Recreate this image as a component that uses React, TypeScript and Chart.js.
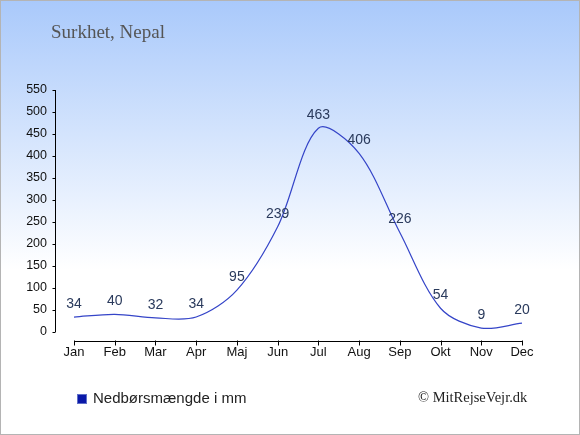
import React, { useEffect, useRef } from "react";
import { Chart, registerables } from "chart.js";

Chart.register(...registerables);

const months = ["Jan", "Feb", "Mar", "Apr", "Maj", "Jun", "Jul", "Aug", "Sep", "Okt", "Nov", "Dec"];
const rainfall = [34, 40, 32, 34, 95, 239, 463, 406, 226, 54, 9, 20];
const yTicks = [0, 50, 100, 150, 200, 250, 300, 350, 400, 450, 500, 550];
const titleText = "Surkhet, Nepal";
const legendText = "Nedbørsmængde i mm";
const creditText = "© MitRejseVejr.dk";

const decorPlugin = {
  id: "decor",
  beforeDraw(chart: any) {
    const { ctx, width, height } = chart;
    ctx.save();
    const g = ctx.createLinearGradient(0, 0, 0, height);
    g.addColorStop(0, "#a9c9fb");
    g.addColorStop(0.62, "#ffffff");
    g.addColorStop(1, "#ffffff");
    ctx.fillStyle = g;
    ctx.fillRect(0, 0, width, height);
    ctx.strokeStyle = "#b4b4b4";
    ctx.lineWidth = 1;
    ctx.strokeRect(0.5, 0.5, width - 1, height - 1);
    ctx.restore();
  },
  afterDraw(chart: any) {
    const { ctx, chartArea } = chart;
    const xs = chart.scales.x;
    const ys = chart.scales.y;
    ctx.save();
    // y axis
    const ax = Math.round(chartArea.left - 19) + 0.5;
    ctx.strokeStyle = "#000";
    ctx.lineWidth = 1;
    ctx.beginPath();
    ctx.moveTo(ax, ys.getPixelForValue(yTicks[yTicks.length - 1]));
    ctx.lineTo(ax, ys.getPixelForValue(0));
    yTicks.forEach((v) => {
      const py = Math.round(ys.getPixelForValue(v)) + 0.5;
      ctx.moveTo(ax - 3, py);
      ctx.lineTo(ax, py);
    });
    // x axis
    const by = Math.round(chartArea.bottom + 9) + 0.5;
    ctx.moveTo(xs.getPixelForValue(0), by);
    ctx.lineTo(xs.getPixelForValue(months.length - 1), by);
    months.forEach((_, i) => {
      const px = Math.round(xs.getPixelForValue(i)) + 0.5;
      ctx.moveTo(px, by - 1);
      ctx.lineTo(px, by + 4);
    });
    ctx.stroke();

    // title
    ctx.fillStyle = "#555555";
    ctx.font = "19px 'Liberation Serif', serif";
    ctx.textAlign = "left";
    ctx.textBaseline = "alphabetic";
    ctx.fillText(titleText, 51, 38);

    // legend
    ctx.fillStyle = "#6070c8";
    ctx.fillRect(77, 394, 10, 10);
    ctx.fillStyle = "#0a18a8";
    ctx.fillRect(78, 395, 8, 8);
    ctx.fillStyle = "#222222";
    ctx.font = "15px 'Liberation Sans', Arial, sans-serif";
    ctx.textBaseline = "middle";
    ctx.fillText(legendText, 93, 399);

    // credit
    ctx.font = "14.5px 'Liberation Serif', serif";
    ctx.textAlign = "left";
    ctx.fillText(creditText, 418, 398);
    ctx.restore();
  },
  afterDatasetsDraw(chart: any) {
    const { ctx } = chart;
    const meta = chart.getDatasetMeta(0);
    ctx.save();
    ctx.fillStyle = "#2a3a5c";
    ctx.font = "14px 'Liberation Sans', Arial, sans-serif";
    ctx.textAlign = "center";
    ctx.textBaseline = "middle";
    meta.data.forEach((pt: any, i: number) => {
      ctx.fillText(String(rainfall[i]), pt.x, pt.y - 13);
    });
    ctx.restore();
  },
};

export default function App() {
  const ref = useRef<HTMLCanvasElement>(null);
  useEffect(() => {
    if (!ref.current) return;
    const chart = new Chart(ref.current, {
      type: "line",
      data: {
        labels: months,
        datasets: [
          {
            label: legendText,
            data: rainfall,
            borderColor: "#3545c8",
            borderWidth: 1.2,
            pointRadius: 0,
            tension: 0.32,
            fill: false,
          },
        ],
      },
      options: {
        responsive: false,
        animation: false,
        devicePixelRatio: 1,
        layout: { padding: { top: 90, right: 58, left: 0, bottom: 0 } },
        plugins: { legend: { display: false }, tooltip: { enabled: false }, title: { display: false } },
        scales: {
          x: {
            type: "category",
            offset: false,
            grid: { display: false, drawTicks: false },
            border: { display: false },
            ticks: {
              color: "#111",
              padding: 13,
              maxRotation: 0,
              autoSkip: false,
              font: { family: "'Liberation Sans', Arial, sans-serif", size: 13 },
            },
            afterFit: (s: any) => {
              s.height = 103;
            },
          },
          y: {
            min: 0,
            max: 550,
            grid: { display: false, drawTicks: false },
            border: { display: false },
            ticks: {
              stepSize: 50,
              color: "#111",
              padding: 27,
              font: { family: "'Liberation Sans', Arial, sans-serif", size: 12.5 },
            },
            afterFit: (s: any) => {
              s.width = 74;
            },
          },
        },
      },
      plugins: [decorPlugin],
    });
    return () => chart.destroy();
  }, []);
  return (
    <div style={{ position: "fixed", left: 0, top: 0, width: 580, height: 435 }}>
      <canvas ref={ref} width={580} height={435} style={{ display: "block" }} />
    </div>
  );
}
